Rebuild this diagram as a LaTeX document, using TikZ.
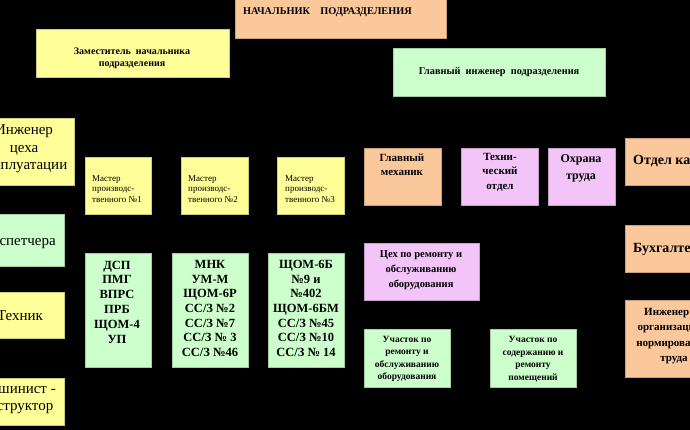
\documentclass[tikz,border=0pt]{standalone}
\usepackage{fontspec}
\setmainfont{Liberation Serif}
\usetikzlibrary{fit}
\definecolor{cOr}{RGB}{250,200,155}
\definecolor{cYe}{RGB}{255,255,153}
\definecolor{cGr}{RGB}{204,255,204}
\definecolor{cPk}{RGB}{242,196,248}
\newcommand\mybox[6]{\node[#2, fit={(#3,#4) (#5,#6)}] (#1) {};}
\newcommand\fs[2]{\fontsize{#1}{#2}\selectfont}
\tikzset{
  bx/.style={inner sep=0pt, line width=0.5pt, rectangle},
  orb/.style={bx, fill=cOr, draw=cOr!80!black},
  yeb/.style={bx, fill=cYe, draw=cYe!80!black},
  grb/.style={bx, fill=cGr, draw=cGr!80!black},
  pkb/.style={bx, fill=cPk, draw=cPk!80!black},
  txt/.style={inner sep=0pt, align=center, text=black},
}
\begin{document}
\begin{tikzpicture}[x=1pt, y=-1pt]
\useasboundingbox (0,0) rectangle (690,430);
\clip (0,0) rectangle (690,430);
\fill[black] (0,0) rectangle (690,430);

% top row
\mybox{nach}{orb}{235}{-10}{446}{38}
\node[txt, anchor=west, font=\fs{10.3}{12}\bfseries] (nacht) at (243,12) {НАЧАЛЬНИК\quad ПОДРАЗДЕЛЕНИЯ};
\mybox{zam}{yeb}{36}{29}{229}{77}
\node[txt, font=\fs{10}{11.5}\bfseries] (zamt) at (132,58.5) {Заместитель\ \ начальника\\подразделения};
\mybox{gi}{grb}{393}{48}{605}{96}
\node[txt, font=\fs{10.3}{12}\bfseries] (git) at (499,72) {Главный\ \ инженер\ \ подразделения};

% left column
\mybox{iex}{yeb}{-30}{118}{74}{185}
\node[txt, font=\fs{15}{17.5}] (iext) at (24,149) {Инженер\\цеха\\эксплуатации};
\mybox{disp}{grb}{-30}{214}{64}{266}
\node[txt, anchor=east, font=\fs{15}{17.5}] (dispt) at (56,242) {Диспетчера};
\mybox{tech}{yeb}{-30}{292}{64}{338}
\node[txt, font=\fs{15}{17.5}] (techt) at (20,316) {Техник};
\mybox{mash}{yeb}{-30}{378}{64}{425}
\node[txt, font=\fs{15}{17}] (masht) at (17,399) {Машинист -\\инструктор};

% masters
\mybox{m1}{yeb}{85}{157}{151}{214}
\node[txt, align=left, anchor=west, font=\fs{9}{10.5}] (m1t) at (92,189) {Мастер\\производс-\\твенного №1};
\mybox{m2}{yeb}{181}{157}{248}{214}
\node[txt, align=left, anchor=west, font=\fs{9}{10.5}] (m2t) at (188,189) {Мастер\\производс-\\твенного №2};
\mybox{m3}{yeb}{277}{157}{344}{214}
\node[txt, align=left, anchor=west, font=\fs{9}{10.5}] (m3t) at (285,189) {Мастер\\производс-\\твенного №3};

% machine lists
\mybox{g1}{grb}{85}{253}{151}{367}
\node[txt, font=\fs{12.5}{14.8}\bfseries] (g1t) at (117,302) {ДСП\\ПМГ\\ВПРС\\ПРБ\\ЩОМ-4\\УП};
\mybox{g2}{grb}{172}{253}{248}{367}
\node[txt, font=\fs{12.5}{14.7}\bfseries] (g2t) at (210,308.5) {МНК\\УМ-М\\ЩОМ-6Р\\СС/З №2\\СС/З №7\\СС/З № 3\\СС/З №46};
\mybox{g3}{grb}{268}{253}{344}{367}
\node[txt, font=\fs{12.5}{14.7}\bfseries] (g3t) at (306,308.5) {ЩОМ-6Б\\№9 и\\№402\\ЩОМ-6БМ\\СС/З №45\\СС/З №10\\СС/З № 14};

% services
\mybox{gm}{orb}{364}{148}{441}{205}
\node[txt, font=\fs{11}{14.5}\bfseries] (gmt) at (402,165) {Главный\\механик};
\mybox{to}{pkb}{461}{148}{538}{205}
\node[txt, font=\fs{11}{14.5}\bfseries] (tot) at (500,172) {Техни-\\ческий\\отдел};
\mybox{ot}{pkb}{548}{148}{615}{205}
\node[txt, font=\fs{12}{17}\bfseries] (ott) at (581,168) {Охрана\\труда};

% right column
\mybox{ok}{orb}{625}{138}{720}{185}
\node[txt, anchor=west, font=\fs{14}{16}\bfseries] (okt) at (633,161) {Отдел кадров};
\mybox{buh}{orb}{625}{225}{720}{272}
\node[txt, anchor=west, font=\fs{14}{16}\bfseries] (buht) at (633,249) {Бухгалтерия};
\mybox{ino}{orb}{625}{300}{720}{377}
\node[txt, font=\fs{11}{15.5}\bfseries] (inot) at (674,336) {Инженер по\\организации и\\нормированию\\труда};

% repair
\mybox{cex}{pkb}{364}{243}{479}{300}
\node[txt, font=\fs{10.5}{15}\bfseries] (cext) at (421,270) {Цех по ремонту и\\обслуживанию\\оборудования};
\mybox{uch1}{grb}{364}{329}{450}{387}
\node[txt, font=\fs{9.5}{12.5}\bfseries] (uch1t) at (407,359) {Участок по\\ремонту и\\обслуживанию\\оборудования};
\mybox{uch2}{grb}{490}{329}{576}{387}
\node[txt, font=\fs{9.5}{12.5}\bfseries] (uch2t) at (533,359) {Участок по\\содержанию и\\ремонту\\помещений};
\end{tikzpicture}
\end{document}
